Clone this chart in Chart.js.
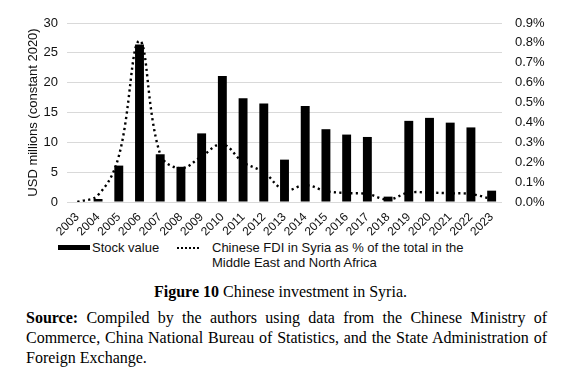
<!DOCTYPE html>
<html lang="en">
<head>
<meta charset="UTF-8">
<title>Chinese investment in Syria</title>
<script src="https://cdn.jsdelivr.net/npm/chart.js"></script>
<style>
  body { margin: 0; background: #fff; }
  #wrap { position: relative; width: 561px; height: 376px; overflow: hidden; }
  #box { position: absolute; left: 0; top: 0; width: 561px; height: 240px; }
  .lg { position: absolute; font: 13px "Liberation Sans", Arial, sans-serif; color: #111; line-height: 15px; }
  .sw { position: absolute; }
  .cap { position: absolute; font: 16px "Liberation Serif", "Times New Roman", serif; color: #000; line-height: 20px; }
  .just { text-align: justify; text-align-last: justify; }
</style>
</head>
<body>
<div id="wrap">
  <div id="box"><canvas id="myChart"></canvas></div>

  <div class="sw" style="left:58px;top:245px;width:32px;height:5px;background:#000"></div>
  <div class="lg" style="left:92px;top:240px">Stock value</div>
  <div class="sw" style="left:177px;top:247px;width:22px;height:0;border-top:2px dotted #000"></div>
  <div class="lg" style="left:212px;top:240px">Chinese FDI in Syria as % of the total in the<br>Middle East and North Africa</div>

  <div class="cap" style="left:0;top:282px;width:561px;text-align:center"><b>Figure 10</b> Chinese investment in Syria.</div>
  <div class="cap just" style="left:26px;top:308px;width:521px"><b>Source:</b> Compiled by the authors using data from the Chinese Ministry of</div>
  <div class="cap just" style="left:26px;top:328px;width:521px">Commerce, China National Bureau of Statistics, and the State Administration of</div>
  <div class="cap" style="left:26px;top:348px">Foreign Exchange.</div>
</div>
<script>
  // values
  const years = ["2003", "2004", "2005", "2006", "2007", "2008", "2009", "2010", "2011", "2012", "2013",
    "2014", "2015", "2016", "2017", "2018", "2019", "2020", "2021", "2022", "2023"];
  const stockValue = [0, 0.5, 6.1, 26.4, 8.0, 5.9, 11.5, 21.1, 17.4, 16.5, 7.1,
    16.1, 12.2, 11.3, 10.9, 0.9, 13.6, 14.1, 13.3, 12.5, 1.9];
  const menaShare = [0.0, 0.035, 0.23, 0.81, 0.24, 0.17, 0.23, 0.29, 0.2, 0.15, 0.06,
    0.085, 0.055, 0.045, 0.04, 0.013, 0.047, 0.047, 0.044, 0.04, 0.015];

  const font = { family: '"Liberation Sans", Arial, sans-serif', size: 13 };

  const config = {
    type: "bar",
    data: {
      labels: years,
      datasets: [
        {
          type: "line",
          label: "Chinese FDI in Syria as % of the total in the Middle East and North Africa",
          data: menaShare,
          yAxisID: "y1",
          borderColor: "#000",
          borderWidth: 2.4,
          borderDash: [2.2, 3.3],
          tension: 0.4,
          pointRadius: 0,
          fill: false,
          order: 0
        },
        {
          label: "Stock value",
          data: stockValue,
          yAxisID: "y",
          backgroundColor: "#000",
          barPercentage: 0.43,
          categoryPercentage: 1,
          order: 1
        }
      ]
    },
    options: {
      responsive: true,
      maintainAspectRatio: false,
      animation: false,
      layout: { padding: { top: 23, left: 0, right: 0, bottom: 0 } },
      plugins: { legend: { display: false }, tooltip: { enabled: false } },
      scales: {
        x: {
          grid: { display: false },
          border: { display: false },
          ticks: {
            color: "#111",
            font: { family: font.family, size: 12 },
            autoSkip: false,
            minRotation: 45,
            maxRotation: 45,
            padding: 0
          },
          afterFit: (s) => { s.height = 38; }
        },
        y: {
          position: "left",
          min: 0,
          max: 30,
          ticks: { stepSize: 5, color: "#111", font, padding: 9 },
          grid: { color: "#d9d9d9", drawTicks: false },
          border: { display: false },
          title: {
            display: true,
            text: "USD millions (constant 2020)",
            color: "#111",
            font,
            padding: { top: 26, bottom: 0 }
          },
          afterFit: (s) => { s.width = 67; }
        },
        y1: {
          position: "right",
          min: 0,
          max: 0.9,
          ticks: {
            stepSize: 0.1,
            color: "#111",
            font,
            padding: 13,
            callback: (v) => v.toFixed(1) + "%"
          },
          grid: { display: false, drawTicks: false },
          border: { display: false },
          afterFit: (s) => { s.width = 59; }
        }
      }
    }
  };

  new Chart(document.getElementById("myChart"), config);
</script>
</body>
</html>
